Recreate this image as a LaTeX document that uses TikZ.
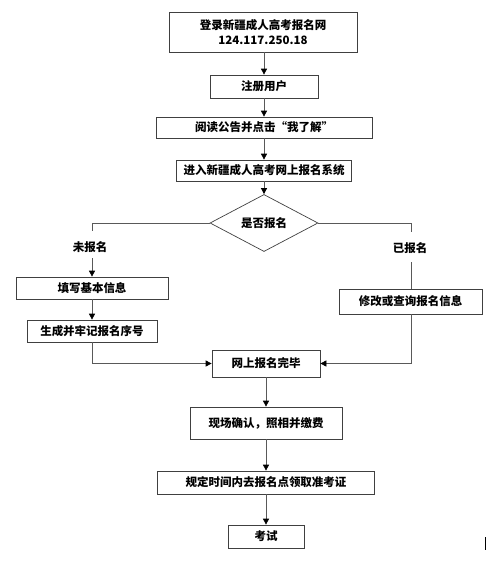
\documentclass[tikz,border=0pt]{standalone}
\usepackage{fontspec}
\newfontfamily\cjk{Noto Sans CJK SC}
\usetikzlibrary{shapes.geometric,arrows.meta}
\begin{document}
\begin{tikzpicture}[x=1pt,y=-1pt,
  box/.style={draw=black!75,line width=0.7pt,inner sep=0pt,font=\cjk\bfseries\fontsize{11.5}{14}\selectfont},
  lbl/.style={inner sep=0pt,font=\cjk\bfseries\fontsize{11.5}{14}\selectfont},
  conn/.style={draw=black!65,line width=0.7pt},
  arr/.style={conn,arrows={-{Triangle[length=6pt,width=6pt,fill=black,color=black]}}}]
\useasboundingbox (0,0) rectangle (489,571);
\node[box,minimum width=188pt,minimum height=40pt,align=center] (b1) at (263,32)
  {登录新疆成人高考报名网\\[1pt]124.117.250.18};
\node[box,minimum width=108pt,minimum height=23pt] (b2) at (264,86.5) {注册用户};
\node[box,minimum width=216pt,minimum height=21pt] (b3) at (264,127.5) {阅读公告并点击“我了解”};
\node[box,minimum width=175pt,minimum height=21pt] (b4) at (264,170.5) {进入新疆成人高考网上报名系统};
\node[box,diamond,minimum width=108pt,minimum height=42pt] (d) at (264,223) {是否报名};
\node[lbl] (l1) at (90,247) {未报名};
\node[lbl] (l2) at (410,248) {已报名};
\coordinate (l1a) at (92,231);
\coordinate (l1b) at (92,258);
\coordinate (l2a) at (411,232);
\coordinate (l2b) at (411,262);
\node[box,minimum width=152pt,minimum height=22pt] (b5) at (92,288) {填写基本信息};
\node[box,minimum width=130pt,minimum height=22pt] (b6) at (92,331) {生成并牢记报名序号};
\node[box,minimum width=143pt,minimum height=25pt] (b8) at (410.5,301.5) {修改或查询报名信息};
\node[box,minimum width=108pt,minimum height=27pt] (b7) at (266,363.5) {网上报名完毕};
\node[box,minimum width=152pt,minimum height=32pt] (b9) at (266,423) {现场确认，照相并缴费};
\node[box,minimum width=217pt,minimum height=23pt] (b10) at (266,482.5) {规定时间内去报名点领取准考证};
\node[box,minimum width=76pt,minimum height=23pt] (b11) at (266,536.5) {考试};
\draw[arr] (b1.south -| b2.north) -- (b2.north);
\draw[arr] (b2.south) -- (b2.south |- b3.north);
\draw[arr] (b2.south |- b3.south) -- (b2.south |- b4.north);
\draw[arr] (b2.south |- b4.south) -- (b2.south |- d.north);
\draw[conn] (d.west) -| (l1a);
\draw[arr] (l1b) -- (b5.north);
\draw[arr] (b5.south) -- (b6.north);
\draw[conn] (d.east) -| (l2a);
\draw[conn] (l2b) -- (l2b |- b8.north);
\draw[arr] (b6.south) |- (b7.west);
\draw[arr] (b8.south -| l2b) |- (b7.east);
\draw[arr] (b7.south) -- (b9.north);
\draw[arr] (b9.south) -- (b10.north);
\draw[arr] (b10.south) -- (b11.north);
\draw[line width=1pt] (485,537) -- (485,550);
\end{tikzpicture}
\end{document}
